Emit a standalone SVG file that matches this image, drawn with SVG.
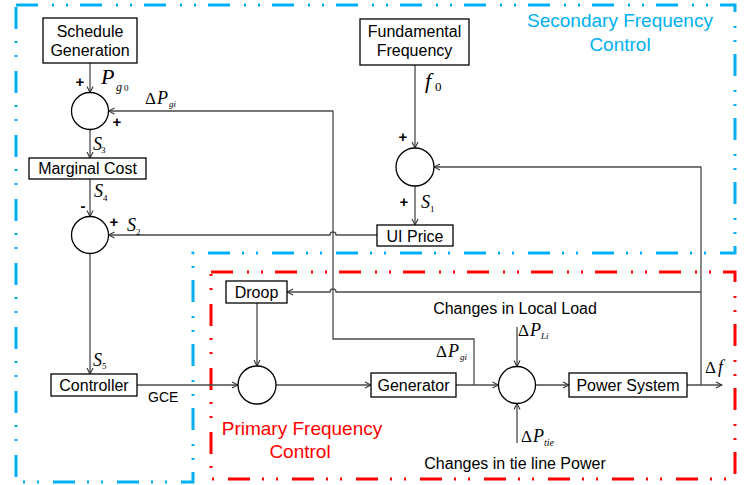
<svg xmlns="http://www.w3.org/2000/svg" width="748" height="485" viewBox="0 0 748 485">
<style>
.box{fill:#fff;stroke:#000;stroke-width:1.3}
.sum{fill:#fff;stroke:#000;stroke-width:1.3}
.t{font-family:"Liberation Sans",Arial,sans-serif;font-size:16px;fill:#000;text-anchor:middle}
.sm{font-family:"Liberation Sans",Arial,sans-serif;font-size:14px;fill:#000}
.sign{font-family:"Liberation Sans",Arial,sans-serif;font-size:15px;font-weight:bold;fill:#000;text-anchor:middle}
.m{font-family:"Liberation Serif","Times New Roman",serif;font-style:italic;fill:#000}
.mu{font-family:"Liberation Serif","Times New Roman",serif;fill:#000}
.c{fill:none;stroke:#4a4a4a;stroke-width:1.3}
.blue{fill:none;stroke:#00B0F0;stroke-width:3;stroke-dasharray:22 14 2 12 2 12}
.red{fill:none;stroke:#FF0000;stroke-width:3;stroke-dasharray:22 14 2 12 2 12}
.bt{font-family:"Liberation Sans",Arial,sans-serif;font-size:19px;fill:#00B0F0;text-anchor:middle}
.rt{font-family:"Liberation Sans",Arial,sans-serif;font-size:19px;fill:#FF0000;text-anchor:middle}
</style>
<defs>
<marker id="ar" viewBox="0 0 8 8" refX="7.5" refY="4" markerWidth="8" markerHeight="8" markerUnits="userSpaceOnUse" orient="auto">
<path d="M1.5,1 L7.5,4 L1.5,7" fill="none" stroke="#333" stroke-width="1.1"/>
</marker>
</defs>

<g id="regions">
<polygon class="blue" points="16,5 735,5 735,253 193,253 193,482 16,482"/>
<rect class="red" x="211" y="272" width="524" height="207"/>
<text class="bt" x="620" y="27">Secondary Frequency</text>
<text class="bt" x="620" y="51">Control</text>
<text class="rt" x="302" y="435">Primary Frequency</text>
<text class="rt" x="300" y="458">Control</text>
</g>

<g id="connectors">
<path class="c" marker-end="url(#ar)" d="M90,63 V92.5"/>
<path class="c" marker-end="url(#ar)" d="M474,385 V339 H333 V111 H108.5"/>
<path class="c" marker-end="url(#ar)" d="M90,129.5 V158"/>
<path class="c" marker-end="url(#ar)" d="M90,179 V216.5"/>
<path class="c" marker-end="url(#ar)" d="M377,235 H336 A3,3 0 0 0 330,235 H108.5"/>
<path class="c" marker-end="url(#ar)" d="M90,253.5 V374"/>
<path class="c" marker-end="url(#ar)" d="M137,385 H238"/>
<path class="c" marker-end="url(#ar)" d="M257,303 V366"/>
<path class="c" marker-end="url(#ar)" d="M276,385 H371"/>
<path class="c" marker-end="url(#ar)" d="M456,385 H498.5"/>
<path class="c" marker-end="url(#ar)" d="M517,327 V366.5"/>
<path class="c" marker-end="url(#ar)" d="M517,443 V403.5"/>
<path class="c" marker-end="url(#ar)" d="M535.5,385 H569"/>
<path class="c" marker-end="url(#ar)" d="M687,385 H722"/>
<path class="c" marker-end="url(#ar)" d="M701,385 V167 H434"/>
<path class="c" marker-end="url(#ar)" d="M701,292 H336 A3,3 0 0 0 330,292 H287"/>
<path class="c" marker-end="url(#ar)" d="M415,65 V148"/>
<path class="c" marker-end="url(#ar)" d="M415,186 V225"/>
</g>

<g id="schedule">
<rect class="box" x="43" y="18" width="94" height="45"/>
<text class="t" x="90" y="37">Schedule</text>
<text class="t" x="90" y="56">Generation</text>
</g>
<g id="sum1">
<circle class="sum" cx="90" cy="111" r="18.5"/>
</g>
<g id="marginal">
<rect class="box" x="29" y="158" width="117" height="21"/>
<text class="t" x="87.5" y="174">Marginal Cost</text>
</g>
<g id="sum2">
<circle class="sum" cx="90" cy="235" r="18.5"/>
</g>
<g id="controller">
<rect class="box" x="51" y="374" width="86" height="22"/>
<text class="t" x="94" y="391">Controller</text>
</g>
<g id="fundamental">
<rect class="box" x="360" y="19" width="109" height="46"/>
<text class="t" x="414.5" y="37">Fundamental</text>
<text class="t" x="414.5" y="56">Frequency</text>
</g>
<g id="sum5">
<circle class="sum" cx="415" cy="167" r="19"/>
</g>
<g id="uiprice">
<rect class="box" x="377" y="225" width="76" height="21"/>
<text class="t" x="415" y="242">UI Price</text>
</g>
<g id="droop">
<rect class="box" x="226" y="281" width="61" height="22"/>
<text class="t" x="256.5" y="298">Droop</text>
</g>
<g id="sum3">
<circle class="sum" cx="257" cy="385" r="19"/>
</g>
<g id="generator">
<rect class="box" x="371" y="373" width="85" height="24"/>
<text class="t" x="413.5" y="391">Generator</text>
</g>
<g id="sum4">
<circle class="sum" cx="517" cy="385" r="18.5"/>
</g>
<g id="powersystem">
<rect class="box" x="569" y="373" width="118" height="24"/>
<text class="t" x="628" y="391">Power System</text>
</g>

<g id="labels">
<text class="sign" x="80" y="87">+</text>
<text class="sign" x="117" y="127">+</text>
<text class="sign" x="83" y="211">-</text>
<text class="sign" x="114" y="227">+</text>
<text class="sign" x="403" y="142">+</text>
<text class="sign" x="404" y="207">+</text>

<text class="m" x="101" y="84" style="font-size:22px">P</text>
<text class="m" x="116" y="91" style="font-size:12px">g</text>
<text class="mu" x="124" y="91" style="font-size:9px">0</text>

<text class="mu" x="145" y="104" style="font-size:17px">Δ</text>
<text class="m" x="157" y="104" style="font-size:18px">P</text>
<text class="m" x="169" y="107" style="font-size:9px">gi</text>

<text class="m" x="93" y="150" style="font-size:18px">S</text>
<text class="mu" x="101" y="153" style="font-size:9px">3</text>
<text class="m" x="94" y="197" style="font-size:18px">S</text>
<text class="mu" x="103" y="201" style="font-size:9px">4</text>
<text class="m" x="127" y="231" style="font-size:18px">S</text>
<text class="mu" x="136" y="235" style="font-size:9px">2</text>
<text class="m" x="93" y="366" style="font-size:18px">S</text>
<text class="mu" x="102" y="369" style="font-size:9px">5</text>
<text class="m" x="421" y="208" style="font-size:18px">S</text>
<text class="mu" x="430" y="212" style="font-size:9px">1</text>

<text class="m" x="425" y="88" style="font-size:22px">f</text>
<text class="mu" x="435" y="91" style="font-size:13px">0</text>

<text class="sm" x="148" y="402">GCE</text>

<text class="mu" x="436" y="357" style="font-size:17px">Δ</text>
<text class="m" x="448" y="357" style="font-size:18px">P</text>
<text class="m" x="460" y="360" style="font-size:9px">gi</text>

<text class="t" x="515" y="314">Changes in Local Load</text>
<text class="mu" x="518" y="336" style="font-size:17px">Δ</text>
<text class="m" x="530" y="336" style="font-size:18px">P</text>
<text class="m" x="541" y="339" style="font-size:9px">Li</text>

<text class="mu" x="521" y="442" style="font-size:17px">Δ</text>
<text class="m" x="533" y="442" style="font-size:18px">P</text>
<text class="m" x="544" y="446" style="font-size:10px">tie</text>
<text class="t" x="515" y="469">Changes in tie line Power</text>

<text class="mu" x="705" y="373" style="font-size:17px">Δ</text>
<text class="m" x="718" y="373" style="font-size:18px">f</text>
</g>
</svg>
